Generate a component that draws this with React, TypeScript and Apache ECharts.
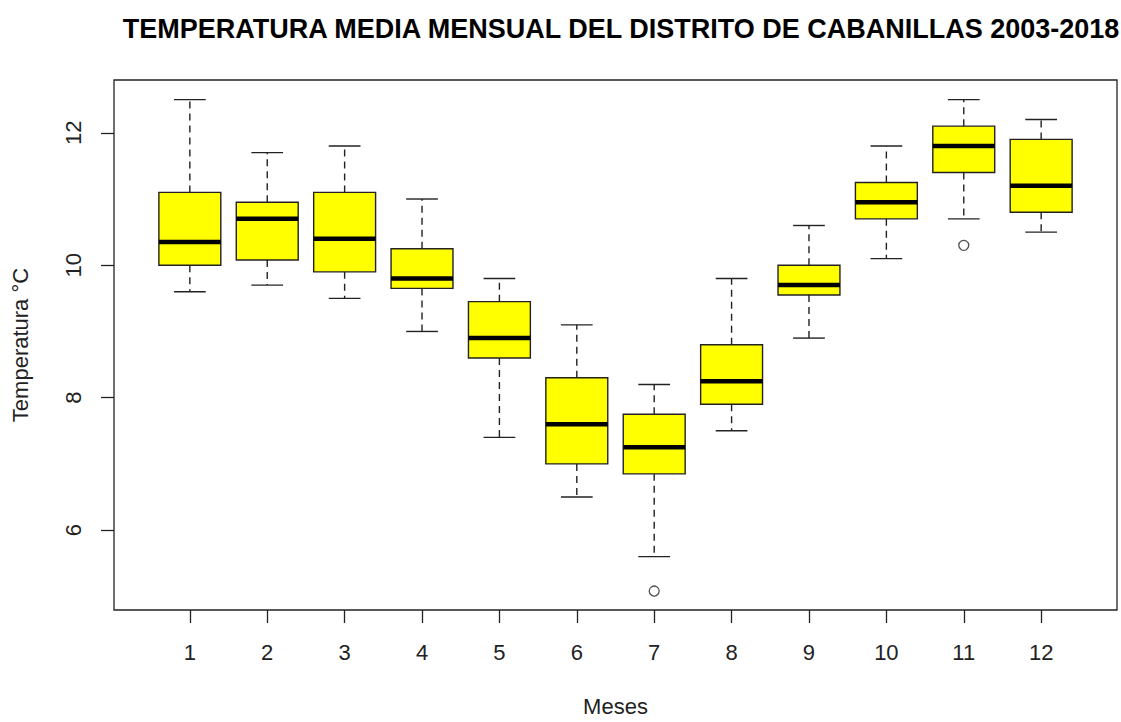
import React, { useEffect, useRef } from "react";
import * as echarts from "echarts";

const months = [1, 2, 3, 4, 5, 6, 7, 8, 9, 10, 11, 12];
const whiskerLow = [9.6, 9.7, 9.5, 9.0, 7.4, 6.5, 5.6, 7.5, 8.9, 10.1, 10.7, 10.5];
const q1 = [10.0, 10.08, 9.9, 9.65, 8.6, 7.0, 6.85, 7.9, 9.55, 10.7, 11.4, 10.8];
const median = [10.35, 10.7, 10.4, 9.8, 8.9, 7.6, 7.25, 8.25, 9.7, 10.95, 11.8, 11.2];
const q3 = [11.1, 10.95, 11.1, 10.25, 9.45, 8.3, 7.75, 8.8, 10.0, 11.25, 12.1, 11.9];
const whiskerHigh = [12.5, 11.7, 11.8, 11.0, 9.8, 9.1, 8.2, 9.8, 10.6, 11.8, 12.5, 12.2];
const outliers = [
  [7, 5.08],
  [11, 10.3],
];
const yTicks = [6, 8, 10, 12];

const FONT = '"Liberation Sans", Arial, sans-serif';

export default function App() {
  const ref = useRef<HTMLDivElement>(null);
  useEffect(() => {
    if (!ref.current) return;
    const chart = echarts.init(ref.current, undefined, { renderer: "svg" });
    const boxData = months.map((m, i) => [m, whiskerLow[i], q1[i], median[i], q3[i], whiskerHigh[i]]);
    chart.setOption({
      animation: false,
      backgroundColor: "#ffffff",
      title: {
        text: "TEMPERATURA MEDIA MENSUAL DEL DISTRITO DE CABANILLAS 2003-2018",
        left: 616,
        top: 10,
        textAlign: "center",
        textStyle: { fontFamily: FONT, fontWeight: "bold", fontSize: 27, color: "#000" },
      },
      grid: {
        left: 114,
        top: 80,
        width: 1003,
        height: 535,
        show: true,
        borderColor: "#222",
        borderWidth: 1.3,
        backgroundColor: "transparent",
      },
      xAxis: {
        type: "value",
        min: 0.02,
        max: 12.98,
        name: "Meses",
        nameLocation: "middle",
        nameGap: 85,
        nameTextStyle: { fontFamily: FONT, fontSize: 22, color: "#222" },
        axisLine: { show: false },
        axisTick: { show: true, length: 13, customValues: months, lineStyle: { color: "#222", width: 1.3 } },
        axisLabel: {
          customValues: months,
          margin: 31,
          fontFamily: FONT,
          fontSize: 22,
          color: "#222",
        },
        splitLine: { show: false },
      },
      yAxis: {
        type: "value",
        min: 4.794,
        max: 12.797,
        name: "Temperatura °C",
        nameLocation: "middle",
        nameRotate: 90,
        nameGap: 83,
        nameTextStyle: { fontFamily: FONT, fontSize: 22, color: "#222" },
        axisLine: { show: false },
        axisTick: { show: true, length: 13, customValues: yTicks, lineStyle: { color: "#222", width: 1.3 } },
        axisLabel: {
          customValues: yTicks,
          rotate: 90,
          margin: 30,
          fontFamily: FONT,
          fontSize: 22,
          color: "#222",
        },
        splitLine: { show: false },
      },
      series: [
        {
          type: "custom",
          data: boxData,
          encode: { x: 0, y: [1, 2, 3, 4, 5] },
          renderItem: (params: any, api: any) => {
            const x = api.value(0);
            const lo = api.coord([x, api.value(1)]);
            const b1 = api.coord([x, api.value(2)]);
            const md = api.coord([x, api.value(3)]);
            const b3 = api.coord([x, api.value(4)]);
            const hi = api.coord([x, api.value(5)]);
            const bw = api.size([0.8, 0])[0];
            const cw = api.size([0.41, 0])[0];
            const cx = lo[0];
            const dashStyle = { stroke: "#222", lineWidth: 1.4, lineDash: [7, 5] };
            const solid = { stroke: "#222", lineWidth: 1.4 };
            return {
              type: "group",
              children: [
                { type: "line", shape: { x1: cx, y1: b3[1], x2: cx, y2: hi[1] }, style: dashStyle },
                { type: "line", shape: { x1: cx, y1: b1[1], x2: cx, y2: lo[1] }, style: dashStyle },
                { type: "line", shape: { x1: cx - cw / 2, y1: hi[1], x2: cx + cw / 2, y2: hi[1] }, style: solid },
                { type: "line", shape: { x1: cx - cw / 2, y1: lo[1], x2: cx + cw / 2, y2: lo[1] }, style: solid },
                {
                  type: "rect",
                  shape: { x: cx - bw / 2, y: b3[1], width: bw, height: b1[1] - b3[1] },
                  style: { fill: "#ffff00", stroke: "#222", lineWidth: 1.4 },
                },
                {
                  type: "line",
                  shape: { x1: cx - bw / 2, y1: md[1], x2: cx + bw / 2, y2: md[1] },
                  style: { stroke: "#000", lineWidth: 4.5 },
                },
              ],
            };
          },
        },
        {
          type: "scatter",
          data: outliers,
          symbol: "circle",
          symbolSize: 10,
          itemStyle: { color: "#ffffff", borderColor: "#222", borderWidth: 1.3 },
        },
      ],
    });
    return () => chart.dispose();
  }, []);
  return <div ref={ref} style={{ position: "fixed", left: 0, top: 0, width: 1121, height: 722 }} />;
}
